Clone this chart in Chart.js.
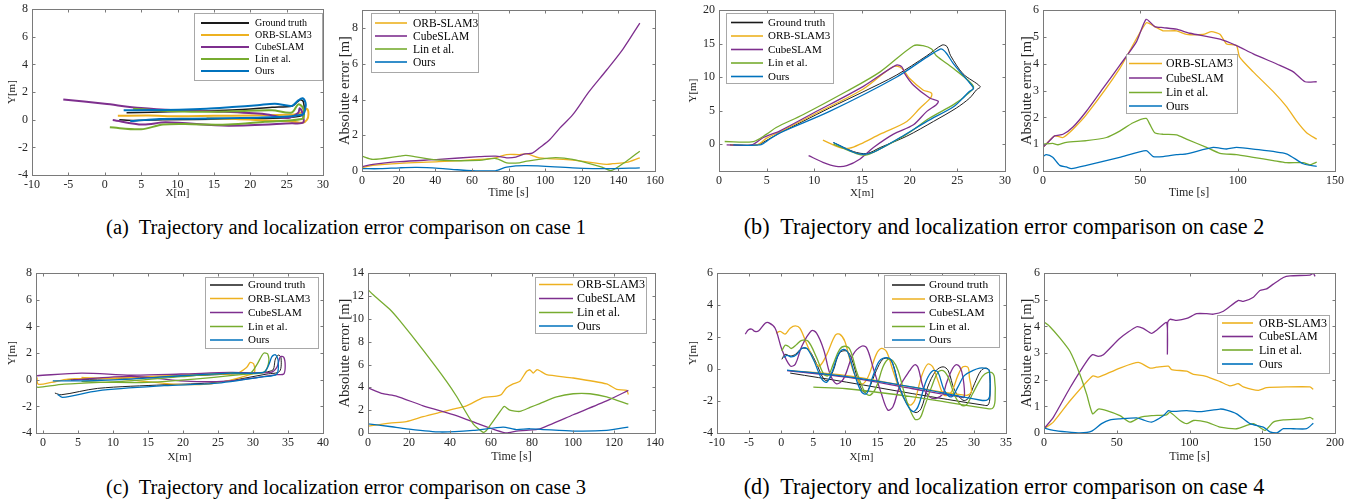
<!DOCTYPE html>
<html><head><meta charset="utf-8">
<script src="https://cdn.jsdelivr.net/npm/chart.js@4.4.1/dist/chart.umd.min.js"></script>
<style>
html,body{margin:0;padding:0;background:#fff;width:1364px;height:504px;overflow:hidden;position:relative;}
.cv{position:absolute;}
.cap{position:absolute;font-family:"Liberation Serif","Times New Roman",serif;font-size:20.5px;color:#000;white-space:nowrap;transform:translate(-50%,-50%);}
.capR{font-size:22.2px;}
</style></head><body>
<div class="cap" style="left:346px;top:227px">(a)&nbsp; Trajectory and localization error comparison on case 1</div>
<div class="cap capR" style="left:1004px;top:227px">(b)&nbsp; Trajectory and localization error comparison on case 2</div>
<div class="cap" style="left:346px;top:487px">(c)&nbsp; Trajectory and localization error comparison on case 3</div>
<div class="cap capR" style="left:1004px;top:487px">(d)&nbsp; Trajectory and localization error comparison on case 4</div>
<script>
// ---------- series names ----------
const NAMES = ["Ground truth","ORB-SLAM3","CubeSLAM","Lin et al.","Ours"];

// ---------- (a) case 1 trajectories ----------
const A1_GT_X = [3,10,17.5,23,25.8,26.5,26.9,27.3,27.4,27.1,25,17,8,4,2];
const A1_GT_Y = [0.5,0.6,0.7,0.9,1.0,1.3,1.45,1.3,0.6,0.3,0.15,0.05,0,-0.05,0];
const A1_ORB_X = [1.8,6,10,15,20,24,26.3,27.3,27.8,28,27.8,27.2,26,22,18,14];
const A1_ORB_Y = [0.28,0.3,0.25,0.28,0.3,0.35,0.4,0.6,0.78,0.4,0,-0.22,-0.15,-0.05,0.05,0.1];
const A1_CUBE_X = [-5.7,0,5,9.8,15,22.1,25.2,26.6,26.8,27.1,27.3,25.7,17,8.4,5.2,1.1];
const A1_CUBE_Y = [1.47,1.15,0.85,0.69,0.6,0.4,0.12,0.5,0.83,0.6,-0.19,-0.26,-0.43,-0.19,-0.35,-0.02];
const A1_LIN_X = [0.7,5,8,12,17,22,27.1,27.4,27.2,26.6,25.7,23,18,13,8,3.9];
const A1_LIN_Y = [-0.55,-0.69,-0.35,-0.32,-0.35,-0.15,0.05,0.38,0.9,1.11,0.52,0.69,0.62,0.57,0.65,0.8];
const A1_OURS_X = [2.6,6,10.2,14,17.5,21,23.4,25.7,26.6,27.2,27.6,27.6,27.3,26.6,25.2,21,16.6,12,7.5,4.3,3.5];
const A1_OURS_Y = [0.69,0.7,0.73,0.8,0.92,1.05,1.16,1.0,1.4,1.55,1.23,0.9,0.4,0.33,0.23,0.15,0.1,0.07,0.05,-0.07,-0.1];

// ---------- (a) case 1 errors ----------
const A2_ORB_T = [0,6,20.6,42,64,73,79,86,90,97,115,133.5,137,144.4,151.7];
const A2_ORB_E = [0.18,0.31,0.43,0.52,0.65,0.74,0.92,0.92,0.96,0.74,0.61,0.37,0.41,0.48,0.74];
const A2_CUBE_T = [0,6,20.6,42,64,73,79,84,89,93,97,102.6,108,115,124,133.5,142.6,151.7];
const A2_CUBE_E = [0.24,0.37,0.52,0.65,0.8,0.83,0.74,0.78,0.96,1.0,1.3,1.76,2.4,3.14,4.44,5.64,6.84,8.28];
const A2_LIN_T = [0,6,20.6,24,42,64,73,79,86,90,104,115,132,136,144.4,151.7];
const A2_LIN_E = [0.83,0.65,0.83,0.87,0.61,0.59,0.7,0.46,0.46,0.55,0.74,0.65,0.18,0.02,0.55,1.11];
const A2_OURS_T = [0,10,20.6,30,42,52,64,73,79,90,115,133.5,151.7];
const A2_OURS_E = [0.13,0.13,0.18,0.2,0.15,0.07,0.0,0.02,0.22,0.3,0.18,0.13,0.18];

// ---------- (b) case 2 trajectories ----------
const B1_GT_X = [1.15,4,5.2,6.4,8.8,11.6,15.1,18.6,21.8,23.4,23.9,24.3,25.6,27.4,27,26.3,24.9,22.5,19.7,16.9,15.5,14.1,12];
const B1_GT_Y = [-0.1,-0.1,0.74,1.7,3.4,5.4,7.8,10.3,13.2,14.8,14.6,13.2,10.5,8.6,8.1,6.9,5.4,3.4,1.2,-0.5,-1.4,-1.1,0.25];
const B1_ORB_X = [1.2,4,5,6.4,9.9,15.1,18.3,19.2,20,21.4,22.3,22.2,21.1,19.7,16.9,14.8,13.7,12.7,10.9];
const B1_ORB_Y = [-0.1,-0.1,0.9,1.85,4.4,8.2,11.6,11.3,9.8,8.1,7.6,6.9,5.4,3.4,1.5,0,-0.6,-0.5,0.6];
const B1_CUBE_X = [0.8,3.4,4.65,6.4,9.9,15.1,18.6,19.2,19.5,20.4,22.1,23,22.8,21.8,20.4,18.3,16.2,14.8,13.4,12.3,10.9,9.4];
const B1_CUBE_Y = [-0.1,-0.1,1.0,2.0,4.65,8.6,11.8,11.5,10.5,8.8,6.9,6.4,5.9,4.9,2.9,1.5,-0.5,-2.2,-3.2,-3.3,-2.7,-1.7];
const B1_LIN_X = [0.6,3.6,5,6,8.8,13.4,16.9,20.4,21.4,22.3,22.8,24.6,26.7,26,24.6,22.1,19.7,16.9,15.5,14.4,12];
const B1_LIN_Y = [0.4,0.4,1.5,2.5,4.4,7.9,10.8,14.7,14.7,14.2,13.2,11.3,8.6,7.4,5.9,3.9,1.5,-0.7,-1.6,-1.4,0];
const B1_OURS_X = [1.5,4.3,5.3,6.4,11.6,18.6,21.8,23.2,23.5,23.9,24.6,26.2,26.7,26.2,25.6,24.6,21.8,19,16.2,15.1,14.1,12];
const B1_OURS_Y = [-0.1,-0.1,0.74,1.7,4.9,10.0,13.0,14.2,14.1,13.5,12,9.3,8.3,7.8,6.9,5.6,3.4,1.0,-1.2,-1.5,-1.2,0.25];

// ---------- (b) case 2 errors ----------
const B2_ORB_T = [0,6,10.3,15.4,22.3,39.4,53,57.4,61.7,68.6,73.7,82.3,86.6,90.9,94.3,99.4,101,108,118.3,125,130.3,135.4,140.6];
const B2_ORB_E = [0.88,1.31,1.25,1.56,2.1,3.82,5.53,5.39,5.23,5.23,5.1,5.1,5.2,5.1,4.74,4.68,4.25,3.7,2.96,2.41,1.86,1.43,1.19];
const B2_CUBE_T = [0,2.6,6,10.3,15.4,22.3,30.9,39.4,48,53,57.4,61.7,68.6,75.4,90.9,99.4,108,121.7,128.6,134.6,140.6];
const B2_CUBE_E = [0.88,1.07,1.31,1.37,1.64,2.23,3.09,3.94,4.82,5.66,5.39,5.35,5.29,5.14,4.92,4.68,4.37,3.94,3.7,3.33,3.33];
const B2_LIN_T = [0,5,7.7,12,22.3,32.6,39.4,46.3,53,54.9,57.4,61.7,68.6,73.7,84,90.9,99.4,108,118.3,125,133.7,137.1,140.6];
const B2_LIN_E = [1.0,1.03,0.98,1.07,1.13,1.25,1.49,1.8,1.96,1.74,1.43,1.37,1.35,1.19,0.88,0.66,0.61,0.51,0.39,0.31,0.31,0.23,0.33];
const B2_OURS_T = [0,1.7,5,8.6,12,14.6,22.3,39.4,53,56.6,61.7,68.6,73.7,87.4,94.3,99.4,108,125,133.7,140.6];
const B2_OURS_E = [0.54,0.61,0.51,0.21,0.15,0.09,0.21,0.51,0.76,0.54,0.54,0.61,0.64,0.88,0.82,0.88,0.82,0.64,0.27,0.17];

// ---------- (c) case 3 trajectories ----------
const C1_GT_X = [3.1,7.8,17.3,26.8,32.7,33.2,33.6,34,33.8,32,24.9,17.3,7.8,2.6,1.7];
const C1_GT_Y = [0,0.05,0.23,0.43,0.68,1.55,1.85,1.68,0.63,0.43,-0.2,-0.38,-0.65,-1.13,-1.0];
const C1_ORB_X = [-0.85,-0.7,1.2,3.6,12.6,23,27.7,29.1,29.6,30.1,30.2,29.1,26.8,23.5,18.7,12.6,5.5];
const C1_ORB_Y = [0.18,-0.33,-0.2,0.05,0.18,0.43,0.48,0.93,1.3,1.18,0.55,0.3,-0.03,-0.33,-0.33,-0.03,0.18];
const C1_CUBE_X = [-0.85,5.5,12.6,19.7,26.8,32.5,33.4,33.9,34.4,34.6,34.4,33.4,31.5,26.8,21.1,12.6,4];
const C1_CUBE_Y = [0.3,0.5,0.35,0.43,0.55,0.55,0.93,1.73,1.68,1.05,0.43,0.38,0.23,-0.08,-0.13,0.25,-0.03];
const C1_LIN_X = [-0.85,-0.7,3.1,12.6,19.7,26.8,29.6,30.6,31.5,32.1,32.2,31.5,29.1,24.4,19.7,14.9,10.2,5.5];
const C1_LIN_Y = [-0.53,-0.58,-0.33,-0.08,0.23,0.5,0.5,1.18,1.98,1.93,1.18,0.55,0.43,0.18,-0.03,-0.2,-0.2,-0.13];
const C1_OURS_X = [1.4,5.5,12.6,19.7,26.8,31.5,32.2,32.7,33.2,33.6,33.4,31.5,24.4,17.3,7.8,2.8,2.1];
const C1_OURS_Y = [-0.08,-0.08,0.05,0.3,0.5,0.55,1.05,1.73,1.88,1.43,0.43,0.23,-0.28,-0.45,-0.83,-1.33,-1.1];

// ---------- (c) case 3 errors ----------
const C2_ORB_T = [0,10.6,18.7,26.9,35,41.5,48,56.2,62.7,65.1,67.6,70.8,74.1,77.3,79,80.6,82.3,83.8,87.1,100.1,116.4,121.3,126.2,127];
const C2_ORB_E = [0.6,0.86,1.0,1.43,1.8,2.09,2.38,3.1,3.24,3.38,3.96,4.3,4.53,5.39,5.54,5.25,5.54,5.45,5.11,4.82,4.3,3.82,3.73,3.38];
const C2_CUBE_T = [0,7.3,13.8,26.9,43.1,54.5,62.7,67.6,72.4,77.3,83.8,100.1,116.4,127];
const C2_CUBE_E = [3.96,3.44,3.24,2.38,1.52,0.75,0.23,0.0,0.17,0.23,0.37,1.6,2.81,3.73];
const C2_LIN_T = [0,2.4,10.6,15.5,26.9,38.3,43.1,51.3,56.2,57.8,65.9,66.7,69.2,74.1,79,83.8,92,100.1,108.3,116.4,127];
const C2_LIN_E = [12.56,12.13,10.84,9.84,7.26,4.53,3.24,0.8,0.05,0.23,2.24,2.32,2.0,1.89,2.24,2.58,3.16,3.44,3.44,3.16,2.52];
const C2_OURS_T = [0,10.6,18.7,35,51.3,65.9,72.4,79,100.1,116.4,127];
const C2_OURS_E = [0.8,0.57,0.37,0.09,0.23,0.52,0.29,0.37,0.17,0.23,0.52];

// ---------- (d) case 4 trajectories ----------
const D1_GT_X = [0.1,0.6,1.4,2.2,3.2,4.2,5.3,6.6,7.3,8.1,9.1,10.2,10.9,12,12.8,13.5,14.8,15.8,16.6,17.4,18.4,20,21,21.8,22.8,24.1,25.2,26,27,28.3,29.1,30.1,31.1,31.9,32.4,32.5,32.2,31.4,20.5,10.2,1.4];
const D1_GT_Y = [0.61,0.92,0.82,0.92,1.29,1.23,0.51,-0.61,-0.72,-0.1,1.02,1.13,0.72,-0.72,-1.43,-1.33,-0.1,0.61,0.66,0.31,-1.13,-2.46,-2.72,-2.46,-1.13,-0.1,0.14,-0.1,-1.33,-1.95,-1.84,-0.92,-0.1,0.06,-0.1,-1.74,-2.25,-2.25,-1.54,-0.82,-0.25];
const D1_ORB_X = [-0.8,-0.17,0.6,1.4,2.2,2.9,4,5.3,6,7.1,8.4,9.1,9.9,11.2,12.5,13.5,14.8,15.6,16.4,17.4,18.7,20,20.8,21.8,22.8,23.6,24.4,25.4,26.5,27.5,28.3,29.1,29.3,29.6,28.8,20.5,10.2,1.4];
const D1_ORB_Y = [2.25,2.36,2.19,2.56,2.7,2.56,1.54,0.41,0.2,0.92,2.11,2.19,1.74,-0.1,-0.92,-0.51,0.92,1.29,1.09,-0.1,-1.54,-2.25,-1.95,-0.51,0.31,0.14,-0.72,-1.64,-1.43,-0.41,0.14,0.1,-0.51,-1.43,-1.64,-1.13,-0.41,-0.1];
const D1_CUBE_X = [-5.6,-5.1,-4.6,-4.1,-3.5,-2.5,-1.98,-0.95,0.1,1.4,2.2,3.2,4.7,5.5,6.6,7.6,8.6,9.7,11.2,12.5,13.3,14.3,15.6,16.6,17.4,18.4,20,20.8,21.3,22.1,23.1,24.1,25.2,25.7,26.5,27.2,27.8,28.3,28.5,27.8,20.5,10.2,0.9];
const D1_CUBE_Y = [2.19,2.46,2.5,2.36,2.4,2.87,2.91,2.56,1.23,0.2,0.31,1.43,2.4,2.25,1.23,-0.31,-0.92,-0.61,0.92,1.43,1.33,0.1,-1.54,-2.56,-2.36,-1.13,-0.1,0.27,0.1,-1.13,-1.74,-1.84,-1.54,-0.92,-0.1,0.27,0.14,-0.51,-1.74,-1.74,-1.23,-0.51,-0.1];
const D1_LIN_X = [0.1,0.6,1.1,1.6,2.4,3.2,4.2,5.5,6.6,7.3,8.1,9.1,9.9,10.7,11.7,13,13.8,14.8,15.8,16.6,17.4,18.2,19.5,20.8,21.6,22.3,23.4,24.4,25.2,26,27,28,28.8,29.8,30.9,31.7,32.7,33.2,33.3,32.9,31.9,20.5,10.2,5.0];
const D1_LIN_Y = [1.13,1.49,1.43,1.29,1.54,1.8,1.74,0.72,-0.31,-0.41,0.31,1.23,1.43,1.23,-0.1,-1.43,-1.64,-1.13,0.1,0.61,0.51,-0.1,-1.95,-3.13,-3.07,-2.35,-1.13,-0.2,-0.1,-0.51,-1.64,-2.25,-2.25,-1.54,-0.72,-0.31,-0.2,-0.51,-1.95,-2.46,-2.46,-1.74,-1.23,-1.13];
const D1_OURS_X = [0.35,0.9,1.6,2.4,3.2,4,5,6.3,7.1,7.9,8.9,9.7,10.4,11.5,12.5,13.3,14.3,15.3,16.4,17.2,18.2,19.5,20.5,21.3,22.6,23.6,24.4,25.4,26.5,27.5,28.5,29.8,30.9,31.9,32.4,32.5,32.2,31.1,20.5,10.2,0.9];
const D1_OURS_Y = [0.72,0.86,0.76,0.92,1.29,1.29,0.61,-0.61,-0.82,-0.2,0.92,1.23,1.02,-0.41,-1.43,-1.54,-0.41,0.51,0.72,0.51,-0.92,-2.15,-2.66,-2.35,-0.72,-0.1,-0.2,-1.33,-1.74,-1.13,-0.41,-0.1,0.06,0.04,-0.1,-1.54,-1.9,-1.95,-1.13,-0.47,-0.06];

// ---------- (d) case 4 errors ----------
const D2_ORB_T = [0,6.4,17.9,33.4,37.3,40.8,52.2,64.8,72.9,77.4,85.5,87.7,98.1,102.7,110.7,121,127.8,133.6,137,147.3,153,166.8,182.8,185.1];
const D2_ORB_E = [0.16,0.41,1.21,2.14,2.1,2.17,2.44,2.65,2.44,2.47,2.51,2.38,2.32,2.2,2.14,1.93,1.77,1.85,1.73,1.6,1.7,1.73,1.73,1.64];
const D2_CUBE_T = [0,6.4,17.9,29.3,33.4,37.3,40.8,52.2,63.7,68.2,74,77.4,84.3,84.8,85,86.6,91.2,98.1,104.9,111.8,116.4,123.3,133.6,137,143.9,148.4,153,157.6,164.5,169.1,182.8,185.1,186.3];
const D2_CUBE_E = [0.16,0.59,1.7,2.69,2.94,2.88,2.94,3.56,3.99,3.93,3.74,3.86,4.15,2.96,4.15,4.27,4.23,4.3,4.48,4.48,4.46,4.57,4.98,4.94,5.1,5.35,5.41,5.59,5.84,5.9,5.93,5.99,5.88];
const D2_LIN_T = [0,4.1,11,17.9,24.7,29.3,33.4,37.3,43.1,52.2,59.1,66,73.9,84.3,86.6,93.5,98.1,102.7,111.8,121,132.4,143.9,151.9,157.6,164.5,178.2,182.8,185.1];
const D2_LIN_E = [4.17,3.99,3.56,3.06,2.2,1.46,0.72,0.9,0.84,0.65,0.41,0.59,0.65,0.68,0.78,0.47,0.35,0.47,0.41,0.22,0.16,0.35,0.1,0.41,0.49,0.53,0.59,0.51];
const D2_OURS_T = [0,6.4,15.6,24.7,32.8,39.6,45.4,52.2,63.7,68.2,73.9,82,85.5,87.7,98.1,107.2,121,125.5,132.4,141.6,150.7,155.3,159.9,164.5,171.4,180.5,185.1];
const D2_OURS_E = [0.19,0.1,0.04,0,0.07,0.35,0.49,0.53,0.57,0.49,0.41,0.65,0.84,0.81,0.84,0.8,0.9,0.86,0.72,0.35,0.22,0.04,0,0.16,0.16,0.16,0.37];

// ---------- tick values ----------
const A1_XT = [-10,-5,0,5,10,15,20,25,30], A1_YT = [-4,-2,0,2,4,6,8];
const A2_XT = [0,20,40,60,80,100,120,140,160], A2_YT = [0,2,4,6,8];
const B1_XT = [0,5,10,15,20,25,30], B1_YT = [0,5,10,15,20];
const B2_XT = [0,50,100,150], B2_YT = [0,1,2,3,4,5,6];
const C1_XT = [0,5,10,15,20,25,30,35,40], C1_YT = [-4,-2,0,2,4,6,8];
const C2_XT = [0,20,40,60,80,100,120,140], C2_YT = [0,2,4,6,8,10,12,14];
const D1_XT = [-10,-5,0,5,10,15,20,25,30,35], D1_YT = [-4,-2,0,2,4,6];
const D2_XT = [0,50,100,150,200], D2_YT = [0,1,2,3,4,5,6];

// ---------- styling / layout ----------
const SERIF = '"Liberation Serif","Times New Roman",serif';
const COL = {"Ground truth":"#1a1a1a","ORB-SLAM3":"#EDB120","CubeSLAM":"#7E2F8E","Lin et al.":"#77AC30","Ours":"#0072BD"};
const ORD = {"Ground truth":4,"ORB-SLAM3":3,"CubeSLAM":2,"Lin et al.":1,"Ours":0};
const PL = 44, PT = 8, PR = 12, PB = 34;

const boxPlugin = {
  id: 'mbox',
  afterDraw(chart, args, o) {
    const {ctx, chartArea: a, scales: {x, y}} = chart;
    ctx.save();
    ctx.strokeStyle = '#7a7a7a'; ctx.lineWidth = 1;
    const L = Math.round(a.left) + 0.5, T = Math.round(a.top) + 0.5, R = Math.round(a.right) + 0.5, B = Math.round(a.bottom) + 0.5;
    ctx.strokeRect(L, T, R - L, B - T);
    const tl = 3;
    ctx.beginPath();
    x.ticks.forEach(t => { const p = Math.round(x.getPixelForValue(t.value)) + 0.5; ctx.moveTo(p, B); ctx.lineTo(p, B - tl); ctx.moveTo(p, T); ctx.lineTo(p, T + tl); });
    y.ticks.forEach(t => { const p = Math.round(y.getPixelForValue(t.value)) + 0.5; ctx.moveTo(L, p); ctx.lineTo(L + tl, p); ctx.moveTo(R, p); ctx.lineTo(R - tl, p); });
    ctx.stroke();
    const lg = o.lg;
    if (lg) {
      const ox = o.ox, oy = o.oy;
      ctx.fillStyle = '#fff';
      ctx.fillRect(lg.box[0] - ox, lg.box[1] - oy, lg.box[2], lg.box[3]);
      ctx.strokeStyle = '#a8a8a8';
      ctx.strokeRect(Math.round(lg.box[0] - ox) + 0.5, Math.round(lg.box[1] - oy) + 0.5, lg.box[2], lg.box[3]);
      ctx.font = lg.font + 'px ' + SERIF;
      ctx.textBaseline = 'middle'; ctx.textAlign = 'left';
      chart.data.datasets.forEach((d, i) => {
        const yy = lg.rows[i] - oy;
        ctx.strokeStyle = d.borderColor; ctx.lineWidth = lg.lw || 1.6;
        ctx.beginPath(); ctx.moveTo(lg.lx[0] - ox, yy); ctx.lineTo(lg.lx[1] - ox, yy); ctx.stroke();
        ctx.fillStyle = '#000';
        ctx.fillText(d.label, lg.tx - ox, yy + 0.5);
      });
    }
    ctx.restore();
  }
};

function makeChart(s) {
  const W = s.r - s.l + PL + PR, H = s.b - s.t + PT + PB;
  const ox = s.l - PL, oy = s.t - PT;
  const cv = document.createElement('canvas');
  cv.className = 'cv';
  cv.width = W; cv.height = H;
  cv.style.left = ox + 'px'; cv.style.top = oy + 'px';
  cv.style.width = W + 'px'; cv.style.height = H + 'px';
  document.body.appendChild(cv);
  const datasets = s.series.map(([name, X, Y]) => ({
    label: name,
    data: X.map((v, i) => ({x: v, y: Y[i]})),
    borderColor: COL[name],
    backgroundColor: COL[name],
    borderWidth: name === 'Ground truth' ? s.lw * 0.75 : s.lw,
    pointRadius: 0,
    showLine: true,
    tension: s.tension,
    fill: false,
    order: ORD[name]
  }));
  const yfs = s.yfs, xfs = s.xfs;
  new Chart(cv, {
    type: 'scatter',
    data: {datasets},
    plugins: [boxPlugin],
    options: {
      responsive: false, animation: false, events: [],
      layout: {padding: {left: 0, top: PT, right: PR, bottom: 0}},
      plugins: {legend: {display: false}, tooltip: {enabled: false}, mbox: {lg: s.lg, ox, oy}},
      scales: {
        x: {
          type: 'linear', min: s.xr[0], max: s.xr[1],
          afterBuildTicks: sc => { sc.ticks = s.xt.map(v => ({value: v})); },
          afterFit: sc => { sc.height = PB; },
          grid: {display: false, drawTicks: false}, border: {display: false},
          ticks: {font: {family: SERIF, size: 12}, color: '#262626', padding: 3, maxRotation: 0, autoSkip: false},
          title: {display: true, text: s.xTitle, color: '#262626', font: {family: SERIF, size: xfs, lineHeight: 1.2},
                  padding: {top: 0, bottom: PB - s.dx - xfs * 0.6}}
        },
        y: {
          type: 'linear', min: s.yr[0], max: s.yr[1],
          afterBuildTicks: sc => { sc.ticks = s.yt.map(v => ({value: v})); },
          afterFit: sc => { sc.width = PL; },
          grid: {display: false, drawTicks: false}, border: {display: false},
          ticks: {font: {family: SERIF, size: 12}, color: '#262626', padding: 4, autoSkip: false},
          title: {display: true, text: s.yTitle, color: '#262626', font: {family: SERIF, size: yfs, lineHeight: 1.2},
                  padding: {top: PL - s.dy - yfs * 0.6, bottom: 0}}
        }
      }
    }
  });
}

const TRAJ = ['X[m]', 'Y[m]'], ERR = ['Time [s]', 'Absolute error [m]'];

makeChart({l:32,t:6,r:323,b:175, xr:[-10,30], yr:[-4,8], xt:A1_XT, yt:A1_YT, xTitle:TRAJ[0], yTitle:TRAJ[1], xfs:11, yfs:11, dx:18.3, dy:20, lw:2, tension:0.3,
  series:[[NAMES[0],A1_GT_X,A1_GT_Y],[NAMES[1],A1_ORB_X,A1_ORB_Y],[NAMES[2],A1_CUBE_X,A1_CUBE_Y],[NAMES[3],A1_LIN_X,A1_LIN_Y],[NAMES[4],A1_OURS_X,A1_OURS_Y]],
  lg:{box:[194,13,128,67], rows:[23,35,47,59,71], lx:[201,249], tx:255, font:10, lw:2}});
makeChart({l:362,t:7,r:655,b:171, xr:[0,160], yr:[0,9], xt:A2_XT, yt:A2_YT, xTitle:ERR[0], yTitle:ERR[1], xfs:12, yfs:14.5, dx:22.3, dy:17, lw:1.3, tension:0.3,
  series:[[NAMES[1],A2_ORB_T,A2_ORB_E],[NAMES[2],A2_CUBE_T,A2_CUBE_E],[NAMES[3],A2_LIN_T,A2_LIN_E],[NAMES[4],A2_OURS_T,A2_OURS_E]],
  lg:{box:[371,13,107,59], rows:[23,36,49,62], lx:[375,407], tx:413, font:11.5}});
makeChart({l:719,t:7,r:1005,b:171, xr:[0,30], yr:[-4,20], xt:B1_XT, yt:B1_YT, xTitle:TRAJ[0], yTitle:TRAJ[1], xfs:11, yfs:11, dx:22.3, dy:26, lw:1.3, tension:0.3,
  series:[[NAMES[0],B1_GT_X,B1_GT_Y],[NAMES[1],B1_ORB_X,B1_ORB_Y],[NAMES[2],B1_CUBE_X,B1_CUBE_Y],[NAMES[3],B1_LIN_X,B1_LIN_Y],[NAMES[4],B1_OURS_X,B1_OURS_Y]],
  lg:{box:[726,13,107,70], rows:[22.5,36,49.5,63,76.5], lx:[731,763], tx:768, font:11}});
makeChart({l:1043,t:7,r:1335,b:171, xr:[0,150], yr:[0,6], xt:B2_XT, yt:B2_YT, xTitle:ERR[0], yTitle:ERR[1], xfs:12, yfs:14.5, dx:22.3, dy:16, lw:1.3, tension:0.2,
  series:[[NAMES[1],B2_ORB_T,B2_ORB_E],[NAMES[2],B2_CUBE_T,B2_CUBE_E],[NAMES[3],B2_LIN_T,B2_LIN_E],[NAMES[4],B2_OURS_T,B2_OURS_E]],
  lg:{box:[1126,54,111,59], rows:[63.5,78,92.5,106], lx:[1129,1162], tx:1166, font:11.8}});
makeChart({l:36,t:270,r:323,b:433, xr:[-1,40], yr:[-4,8], xt:C1_XT, yt:C1_YT, xTitle:TRAJ[0], yTitle:TRAJ[1], xfs:11, yfs:11, dx:23.7, dy:24, lw:1.3, tension:0.3,
  series:[[NAMES[0],C1_GT_X,C1_GT_Y],[NAMES[1],C1_ORB_X,C1_ORB_Y],[NAMES[2],C1_CUBE_X,C1_CUBE_Y],[NAMES[3],C1_LIN_X,C1_LIN_Y],[NAMES[4],C1_OURS_X,C1_OURS_Y]],
  lg:{box:[205,277,113,71], rows:[285,298.5,312.5,326.5,340], lx:[210,243], tx:248, font:11}});
makeChart({l:368,t:270,r:655,b:433, xr:[0,140], yr:[0,14], xt:C2_XT, yt:C2_YT, xTitle:ERR[0], yTitle:ERR[1], xfs:12, yfs:14.5, dx:24, dy:23, lw:1.3, tension:0.2,
  series:[[NAMES[1],C2_ORB_T,C2_ORB_E],[NAMES[2],C2_CUBE_T,C2_CUBE_E],[NAMES[3],C2_LIN_T,C2_LIN_E],[NAMES[4],C2_OURS_T,C2_OURS_E]],
  lg:{box:[535,277,111,56], rows:[284.5,298.5,312.5,326], lx:[539,573], tx:577, font:12}});
makeChart({l:717,t:270,r:1006,b:433, xr:[-10,35], yr:[-4,6], xt:D1_XT, yt:D1_YT, xTitle:TRAJ[0], yTitle:TRAJ[1], xfs:11, yfs:11, dx:23.7, dy:24, lw:1.3, tension:0.35,
  series:[[NAMES[0],D1_GT_X,D1_GT_Y],[NAMES[1],D1_ORB_X,D1_ORB_Y],[NAMES[2],D1_CUBE_X,D1_CUBE_Y],[NAMES[3],D1_LIN_X,D1_LIN_Y],[NAMES[4],D1_OURS_X,D1_OURS_Y]],
  lg:{box:[884,275,115,72], rows:[285,299,312.5,326.5,340], lx:[892,925], tx:929, font:11.4}});
makeChart({l:1044,t:270,r:1335,b:433, xr:[0,200], yr:[0,6], xt:D2_XT, yt:D2_YT, xTitle:ERR[0], yTitle:ERR[1], xfs:12, yfs:14.5, dx:24, dy:17, lw:1.3, tension:0.2,
  series:[[NAMES[1],D2_ORB_T,D2_ORB_E],[NAMES[2],D2_CUBE_T,D2_CUBE_E],[NAMES[3],D2_LIN_T,D2_LIN_E],[NAMES[4],D2_OURS_T,D2_OURS_E]],
  lg:{box:[1217,315,112,58], rows:[323,336.5,350,364], lx:[1222,1253], tx:1259, font:12}});
</script>
</body></html>
